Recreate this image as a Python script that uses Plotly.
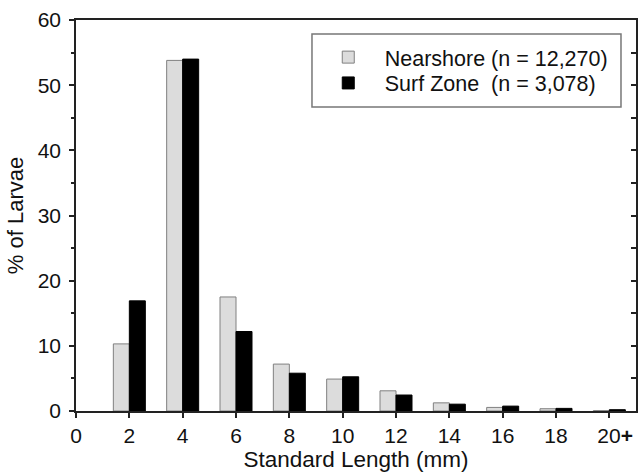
import plotly.graph_objects as go

lengths = [2, 4, 6, 8, 10, 12, 14, 16, 18, 20]
nearshore = [10.3, 53.8, 17.5, 7.2, 4.9, 3.1, 1.25, 0.55, 0.35, 0.05]
surf_zone = [16.9, 54.0, 12.2, 5.8, 5.25, 2.45, 1.05, 0.75, 0.4, 0.2]
tick_vals = [0, 2, 4, 6, 8, 10, 12, 14, 16, 18, 20]
tick_text = ["0", "2", "4", "6", "8", "10", "12", "14", "16", "18", "\u200720<b>+</b>"]

FONT = "Liberation Sans, Arial, sans-serif"
AX = "#222222"

fig = go.Figure()
fig.add_trace(go.Bar(x=lengths, y=nearshore, name="Nearshore (n = 12,270)", legend="legend",
                     marker=dict(color="#dcdcdc", line=dict(color="#808080", width=1))))
fig.add_trace(go.Bar(x=lengths, y=surf_zone, name="Surf Zone \u00a0(n = 3,078)", legend="legend2",
                     marker=dict(color="#000000", line=dict(color="#000000", width=1))))
# invisible trace to carry the right-hand axis
fig.add_trace(go.Scatter(x=[0], y=[0], yaxis="y2", mode="markers",
                         marker=dict(opacity=0), showlegend=False, hoverinfo="skip"))

leg_common = dict(xanchor="left", yanchor="middle", borderwidth=0,
                  bgcolor="rgba(0,0,0,0)",
                  font=dict(family=FONT, size=21.5, color="#111111"),
                  itemwidth=63)

fig.update_layout(
    width=641, height=473,
    margin=dict(l=76, r=5, t=20, b=62, autoexpand=False),
    paper_bgcolor="white", plot_bgcolor="white",
    font=dict(family=FONT, size=21, color="#111111"),
    barmode="group", bargap=0.4, bargroupgap=0,
    showlegend=True,
    legend=dict(x=0.421, y=0.905, **leg_common),
    legend2=dict(x=0.421, y=0.839, **leg_common),
    shapes=[dict(type="rect", xref="paper", yref="paper",
                 x0=0.4214, x1=0.9732, y0=0.7775, y1=0.9642,
                 line=dict(color="#777777", width=1.5), fillcolor="white", layer="above")],
    xaxis=dict(range=[0, 21], tickmode="array", tickvals=tick_vals, ticktext=tick_text,
               ticks="outside", ticklen=5, tickwidth=1.5, tickcolor=AX,
               showline=True, linecolor=AX, linewidth=1.5, mirror=True,
               showgrid=False, zeroline=False, automargin=False,
               tickfont=dict(size=21),
               title=dict(text="Standard Length (mm)", font=dict(size=22.5), standoff=4)),
    yaxis=dict(range=[0, 60], dtick=10, ticks="outside", ticklen=5, tickwidth=1.5,
               tickcolor=AX, showline=True, linecolor=AX, linewidth=1.5,
               showgrid=False, zeroline=False, tickfont=dict(size=21), automargin=False,
               ticklabelstandoff=4,
               minor=dict(dtick=5, ticks="outside", ticklen=3, tickcolor=AX, showgrid=False),
               title=dict(text="% of Larvae", font=dict(size=22), standoff=8)),
    yaxis2=dict(range=[0, 60], overlaying="y", side="right", dtick=5,
                ticks="inside", ticklen=5, tickwidth=1.5, tickcolor=AX,
                showticklabels=False, showline=True, linecolor=AX, linewidth=1.5,
                showgrid=False, zeroline=False, automargin=False),
)

fig.write_html("out.html", config={"displayModeBar": False},
               post_script="document.body.style.margin='0';document.body.style.overflow='hidden';")
